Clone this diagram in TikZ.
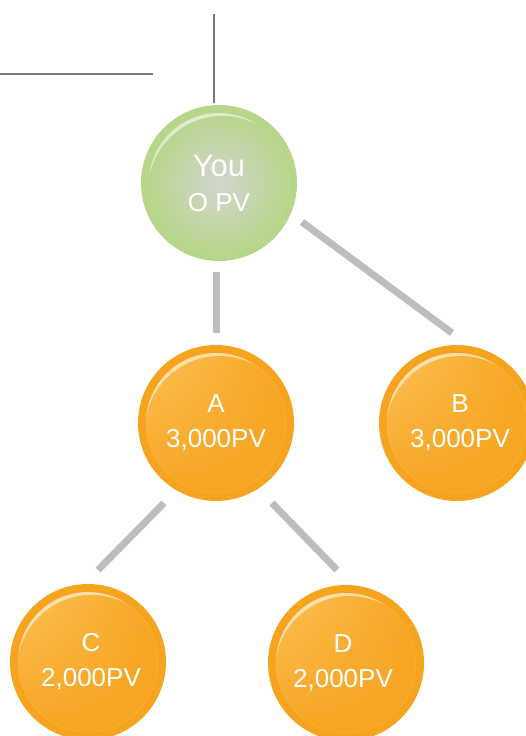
\documentclass[tikz,border=0pt]{standalone}
\usepackage{fontspec}
\setmainfont{Liberation Sans}
\usetikzlibrary{calc,shadings}

\definecolor{greenring}{HTML}{B6D68A}
\definecolor{greencore}{HTML}{D3D6CF}
\definecolor{orangering}{HTML}{F6A41E}
\definecolor{orangelight}{HTML}{FBC256}
\definecolor{orangedark}{HTML}{F7A522}
\definecolor{linkgray}{HTML}{BCBDC0}
\definecolor{rulegray}{HTML}{7B7B7B}

\tikzset{
  bubble/.style={circle, minimum size=156pt, inner sep=0pt, text=white,
    align=center, font=\fontsize{26}{35}\selectfont},
  gloss/.style={white, opacity=.55, even odd rule},
  greenbubble/.style={bubble, fill=greenring,
    path picture={
      \coordinate (pc) at (path picture bounding box.center);
      \shade[inner color=greencore, outer color=greenring] (pc) circle (72pt);
      \begin{scope}
        \clip (pc) circle (70pt);
        \fill[gloss] (pc) circle (70pt) ([xshift=3.5pt,yshift=-7.5pt]pc) circle (74.6pt);
      \end{scope}
    }},
  orangebubble/.style={bubble, fill=orangering,
    path picture={
      \coordinate (pc) at (path picture bounding box.center);
      \shade[upper left=orangelight, upper right=orangedark,
             lower left=orangedark, lower right=orangedark] (pc) circle (70pt);
      \begin{scope}
        \clip (pc) circle (70pt);
        \fill[gloss] (pc) circle (70pt) ([xshift=3.5pt,yshift=-7.5pt]pc) circle (74.6pt);
      \end{scope}
    }},
  link/.style={line width=7pt, draw=linkgray},
  rule/.style={line width=1.5pt, draw=rulegray},
}

\begin{document}
\begin{tikzpicture}[x=1pt, y=-1pt]
  \useasboundingbox (0,0) rectangle (526,736);

  % nodes of the tree
  \node[greenbubble]  (you) at (219,183) {{\fontsize{31}{35}\selectfont You}\\O PV};
  \node[orangebubble] (a)   at (216,423) {A\\3,000PV};
  \node[orangebubble] (b)   at (457,423) {\hspace*{6pt}B\\\hspace*{6pt}3,000PV};
  \node[orangebubble] (c)   at (88,662)  {\hspace*{6pt}C\\\hspace*{6pt}2,000PV};
  \node[orangebubble] (d)   at (346,663) {D\hspace*{6pt}\\2,000PV\hspace*{6pt}};

  % thin rules at the top
  \coordinate (ruletop) at (214,14);
  \coordinate (ruleleft) at (0,74);
  \coordinate (ruleright) at (153,74);
  \draw[rule] (ruletop) -- ($(you.north)+(-5,-2)$);
  \draw[rule] (ruleleft) -- (ruleright);

  % connectors between the levels
  \draw[link] ($(you)+(-3,89)$) -- ($(a)+(0,-90)$);
  \draw[link] ($(you)+(83,39)$) -- ($(b)+(-5,-90)$);
  \draw[link] ($(a)+(-52,80)$) -- ($(c)+(10,-92)$);
  \draw[link] ($(a)+(56,80)$)  -- ($(d)+(-9,-93)$);
\end{tikzpicture}
\end{document}
